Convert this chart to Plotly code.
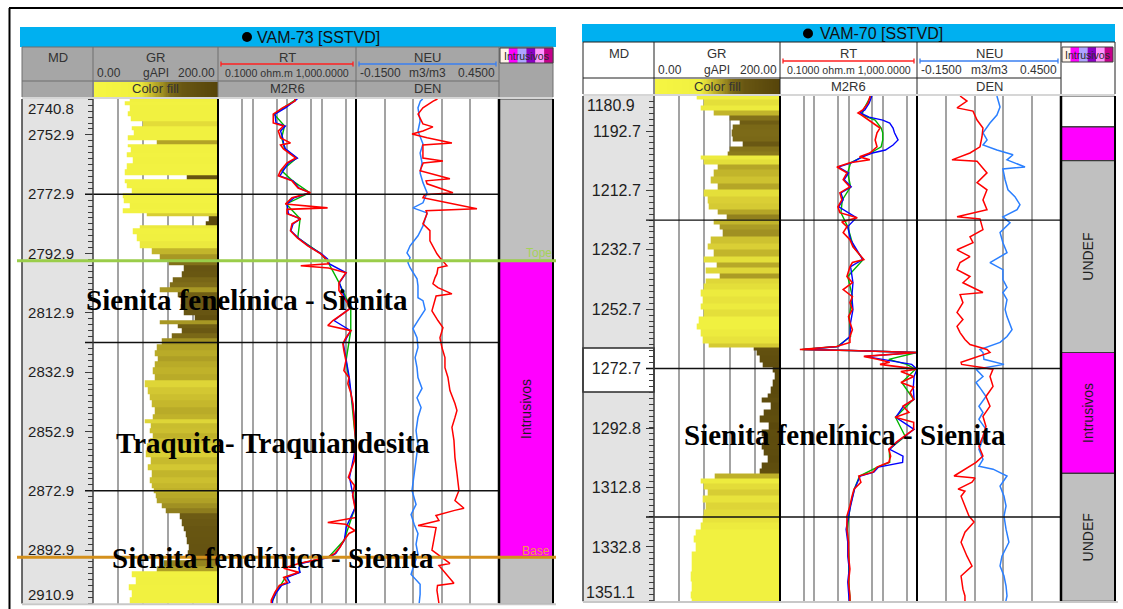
import plotly.graph_objects as go

W, H = 1123, 609
SANS = "Liberation Sans, Arial, sans-serif"
SERIF = "Liberation Serif, Times New Roman, serif"


def fx(x):
    return x / W


def fy(y):
    return 1 - y / H


# ---------------------------------------------------------------- VAM-73
A_TOP, A_BASE = 2740.8, 2910.9
A_MD_TICKS = [2752.9, 2772.9, 2792.9, 2812.9, 2832.9, 2852.9, 2872.9, 2892.9]
A_GRID_50 = [2772.9, 2822.9, 2872.9]
A_ZONE_TOP = [2740.8, 2795.3, 2895.3]
A_ZONE_BASE = [2795.3, 2895.3, 2910.9]
A_ZONE_NAME = ["", "Intrusivos", ""]
A_ZONE_KIND = ["undef", "intrusivos", "undef"]
A_MARKER_NAME = ["Tope", "Base"]
A_MARKER_DEPTH = [2795.3, 2895.3]

A_GR = [(2740.8, 59), (2742.0, 51), (2743.8, 59), (2745.9, 56), (2747.6, 60), (2749.2, 80),
        (2750.6, 62), (2752.3, 66), (2753.9, 56), (2755.6, 102), (2756.3, 56), (2758.0, 60),
        (2759.6, 54), (2761.3, 64), (2763.4, 54), (2765.6, 51), (2767.4, 150), (2768.2, 51),
        (2770.1, 54), (2771.5, 62), (2773.3, 48), (2775.1, 50), (2776.6, 59), (2778.5, 48),
        (2779.9, 86), (2780.9, 185), (2782.9, 180), (2783.6, 75), (2785.2, 64), (2787.6, 70),
        (2789.9, 75), (2792.0, 95), (2794.3, 107), (2796.0, 122), (2797.7, 146), (2799.7, 143),
        (2802.1, 128), (2803.1, 123), (2805.4, 107), (2806.5, 136), (2808.8, 142), (2811.0, 140),
        (2812.6, 146), (2814.5, 163), (2816.2, 107), (2817.2, 136), (2818.9, 142), (2820.6, 126),
        (2822.3, 110), (2824.6, 102), (2826.7, 99), (2828.4, 104), (2830.0, 99), (2832.4, 96),
        (2834.7, 99), (2836.8, 83), (2839.1, 88), (2841.5, 91), (2843.5, 94), (2845.8, 99),
        (2848.2, 96), (2849.2, 83), (2850.9, 92), (2852.6, 91), (2854.3, 96), (2855.9, 91),
        (2858.1, 87), (2860.3, 85), (2862.6, 93), (2865.0, 88), (2867.2, 95), (2869.4, 91),
        (2871.1, 94), (2872.8, 97), (2874.5, 100), (2876.2, 103), (2877.9, 110), (2879.5, 117),
        (2881.2, 139), (2883.9, 142), (2885.6, 146), (2887.3, 148), (2889.6, 150), (2892.0, 154),
        (2893.7, 152), (2895.3, 157), (2897.4, 114), (2899.0, 103), (2900.7, 62), (2903.1, 68),
        (2905.4, 57), (2907.5, 62), (2909.8, 59), (2910.9, 59)]

A_RT = [(2740.8, 17), (2741.5, 17), (2743.8, 7.4), (2745.9, 4.0), (2748.9, 4.0), (2749.9, 7.9),
        (2751.6, 5.6), (2753.9, 6.5), (2755.6, 12.6), (2756.3, 6.5), (2757.6, 7.9), (2760.7, 18),
        (2762.3, 10), (2765.0, 6.5), (2766.7, 5.6), (2768.4, 14), (2770.8, 21), (2772.4, 48),
        (2774.1, 14), (2776.2, 9), (2777.5, 150), (2778.0, 10), (2779.5, 10), (2781.2, 25),
        (2782.9, 14), (2785.2, 12.6), (2787.6, 20), (2790.3, 40), (2793.0, 95), (2794.7, 133),
        (2796.4, 160), (2797.0, 25), (2797.8, 160), (2799.4, 510), (2802.8, 320), (2805.4, 320),
        (2807.8, 446), (2811.2, 715), (2813.2, 417), (2815.5, 214), (2817.2, 152), (2818.9, 715),
        (2821.3, 510), (2823.3, 417), (2825.6, 446), (2829.0, 510), (2832.4, 446), (2834.7, 627),
        (2836.8, 580), (2840.1, 715), (2843.5, 815), (2848.2, 870), (2852.6, 930), (2857.6, 1000),
        (2862.7, 900), (2868.4, 600), (2871.1, 900), (2874.5, 800), (2878.5, 930), (2881.9, 1000),
        (2883.6, 152), (2884.2, 500), (2886.3, 930), (2887.3, 627), (2889.6, 446), (2892.0, 340),
        (2894.0, 244), (2895.3, 152), (2897.4, 22), (2899.0, 8), (2900.4, 22), (2902.1, 8),
        (2903.8, 10), (2904.8, 6), (2907.1, 4.5), (2909.8, 3.5), (2910.9, 3.5)]

A_M2R6 = [(2740.8, 20), (2743.8, 9), (2745.9, 4.5), (2748.9, 4.8), (2749.9, 9), (2751.6, 6.5),
          (2753.9, 7.5), (2756.0, 8), (2757.6, 9), (2760.7, 20), (2762.3, 11), (2765.0, 7.5),
          (2766.7, 6.2), (2768.4, 15), (2770.8, 22), (2772.4, 45), (2774.1, 16), (2776.2, 10),
          (2779.5, 11), (2781.2, 24), (2782.9, 15), (2785.2, 13), (2787.6, 21), (2790.3, 42),
          (2793.0, 100), (2794.7, 150), (2796.4, 170), (2799.4, 520), (2802.8, 330), (2807.8, 470),
          (2811.2, 700), (2815.5, 230), (2818.9, 700), (2823.3, 430), (2829.0, 520), (2834.7, 640),
          (2840.1, 720), (2848.2, 900), (2857.6, 1000), (2868.4, 650), (2878.5, 950), (2885.2, 520),
          (2889.6, 460), (2894.0, 260), (2895.3, 170), (2897.4, 25), (2899.0, 22), (2900.4, 24),
          (2902.1, 10), (2903.8, 12), (2904.8, 7), (2907.1, 5), (2909.8, 3.8), (2910.9, 3.8)]

A_RT3 = [(2740.8, 19), (2745.9, 4.2), (2749.9, 8.5), (2753.9, 7), (2757.6, 8.5), (2760.7, 19),
         (2765.0, 7), (2768.4, 14.5), (2772.4, 46), (2776.2, 9.5), (2781.2, 24), (2787.6, 20.5),
         (2793.0, 97), (2796.4, 165), (2802.8, 325), (2811.2, 705), (2818.9, 705), (2829.0, 515),
         (2840.1, 715), (2857.6, 1000), (2878.5, 940), (2889.6, 450), (2895.3, 160), (2897.4, 23),
         (2900.4, 23), (2902.1, 9), (2904.8, 6.5), (2907.1, 4.8), (2910.9, 3.6)]

A_NEU = [(2740.8, 0.13), (2741.5, 0.12), (2743.8, 0.11), (2748.2, 0.119), (2751.6, 0.11),
         (2756.0, 0.131), (2759.0, 0.119), (2762.3, 0.127), (2765.7, 0.119), (2769.0, 0.131),
         (2772.4, 0.148), (2775.8, 0.131), (2777.5, 0.089), (2779.2, 0.148), (2783.6, 0.131),
         (2786.9, 0.11), (2790.3, 0.077), (2792.7, 0.064), (2794.3, 0.077), (2796.0, 0.068),
         (2797.7, 0.077), (2799.4, 0.089), (2801.4, 0.106), (2803.8, 0.11), (2807.8, 0.11),
         (2808.8, 0.131), (2811.8, 0.14), (2815.5, 0.11), (2818.2, 0.089), (2821.3, 0.106),
         (2824.6, 0.11), (2828.0, 0.098), (2831.4, 0.106), (2834.7, 0.11), (2838.4, 0.127),
         (2841.5, 0.106), (2844.8, 0.123), (2848.2, 0.11), (2852.6, 0.102), (2857.6, 0.11),
         (2862.7, 0.102), (2868.4, 0.094), (2872.8, 0.085), (2877.5, 0.102), (2880.9, 0.081),
         (2884.2, 0.094), (2887.3, 0.11), (2890.9, 0.102), (2894.3, 0.11), (2897.7, 0.094),
         (2901.1, 0.081), (2904.4, 0.119), (2907.8, 0.119), (2910.9, 0.115)]

A_DEN = [(2740.8, 2.52), (2741.5, 2.49), (2743.8, 2.418), (2745.9, 2.384), (2749.2, 2.418),
         (2750.2, 2.488), (2751.6, 2.418), (2752.6, 2.342), (2753.9, 2.447), (2755.6, 2.621),
         (2756.3, 2.418), (2760.7, 2.418), (2761.7, 2.558), (2762.4, 2.42), (2765.0, 2.398),
         (2767.7, 2.607), (2768.4, 2.44), (2769.4, 2.447), (2772.4, 2.628), (2773.1, 2.43),
         (2774.1, 2.418), (2777.8, 2.796), (2778.5, 2.44), (2779.5, 2.447), (2782.9, 2.418),
         (2785.2, 2.467), (2788.6, 2.467), (2793.0, 2.516), (2794.3, 2.537), (2796.4, 2.572),
         (2797.0, 2.586), (2797.7, 2.523), (2799.7, 2.516), (2801.1, 2.502), (2803.1, 2.488),
         (2804.4, 2.523), (2806.5, 2.621), (2807.2, 2.51), (2808.8, 2.502), (2812.2, 2.481),
         (2815.5, 2.523), (2817.9, 2.558), (2821.3, 2.537), (2824.6, 2.551), (2828.0, 2.572),
         (2831.4, 2.572), (2834.7, 2.593), (2839.1, 2.607), (2843.5, 2.642), (2845.8, 2.656),
         (2848.2, 2.642), (2851.5, 2.621), (2855.9, 2.635), (2861.7, 2.642), (2867.0, 2.656),
         (2872.8, 2.67), (2876.2, 2.642), (2878.8, 2.705), (2879.5, 2.64), (2881.2, 2.509),
         (2882.9, 2.53), (2884.6, 2.384), (2885.3, 2.51), (2889.6, 2.495), (2892.9, 2.481),
         (2897.4, 2.607), (2898.1, 2.53), (2904.1, 2.635), (2904.8, 2.52), (2906.4, 2.516),
         (2909.8, 2.53), (2910.9, 2.53)]

# ---------------------------------------------------------------- VAM-70
B_TOP, B_BASE = 1180.9, 1351.1
B_MD_TICKS = [1192.7, 1212.7, 1232.7, 1252.7, 1272.7, 1292.8, 1312.8, 1332.8]
B_GRID_50 = [1222.7, 1272.7, 1322.7]
B_ZONE_TOP = [1180.9, 1191.3, 1202.7, 1267.3, 1308.0]
B_ZONE_BASE = [1191.3, 1202.7, 1267.3, 1308.0, 1351.1]
B_ZONE_NAME = ["", "", "UNDEF", "Intrusivos", "UNDEF"]
B_ZONE_KIND = ["blank", "intrusivos", "undef", "intrusivos", "undef"]
B_MD_SELECTED = (1265.8, 1280.6)

B_GR = [(1180.9, 69), (1183.3, 79), (1184.9, 74), (1186.6, 95), (1188.0, 121), (1190.0, 137),
        (1191.0, 126), (1193.3, 124), (1195.7, 126), (1196.7, 142), (1199.1, 121), (1200.1, 118),
        (1201.7, 74), (1203.1, 79), (1204.8, 101), (1206.8, 95), (1209.1, 90), (1211.5, 101),
        (1213.5, 79), (1215.9, 85), (1218.2, 87), (1220.2, 101), (1221.6, 116), (1223.3, 95),
        (1224.9, 105), (1226.9, 110), (1229.3, 90), (1231.7, 85), (1233.7, 95), (1236.0, 79),
        (1237.7, 100), (1239.4, 82), (1241.7, 105), (1242.7, 82), (1245.1, 79), (1247.1, 74),
        (1249.5, 77), (1251.8, 74), (1253.8, 79), (1256.2, 71), (1258.5, 69), (1260.6, 74),
        (1262.9, 77), (1265.3, 87), (1265.9, 158), (1267.3, 164), (1269.6, 169), (1271.9, 173),
        (1272.9, 189), (1275.4, 192), (1277.4, 189), (1280.0, 185), (1282.1, 181), (1283.1, 172),
        (1285.4, 186), (1287.5, 175), (1289.8, 169), (1292.2, 183), (1294.5, 172), (1296.5, 175),
        (1298.9, 172), (1300.9, 175), (1303.3, 181), (1305.6, 172), (1307.3, 169), (1308.9, 97),
        (1310.6, 74), (1312.3, 80), (1314.3, 86), (1316.7, 77), (1319.0, 83), (1321.1, 80),
        (1323.4, 77), (1325.8, 74), (1327.8, 66), (1330.1, 63), (1332.5, 66), (1335.9, 61),
        (1339.2, 61), (1342.6, 58), (1346.0, 61), (1349.3, 58), (1351.1, 60)]

B_RT = [(1180.9, 43), (1183.3, 37), (1185.6, 26), (1186.6, 19), (1187.3, 24), (1190.0, 52),
        (1191.7, 83), (1193.3, 68), (1195.7, 60), (1198.0, 68), (1200.1, 42), (1201.4, 21),
        (1202.4, 42), (1203.4, 11), (1204.8, 4.6), (1206.8, 9), (1209.1, 7), (1211.5, 11),
        (1213.5, 5.6), (1215.9, 6.4), (1218.2, 4.9), (1220.2, 5.6), (1221.9, 18), (1223.3, 6.4),
        (1224.9, 9), (1226.9, 7), (1229.3, 11), (1231.7, 13.5), (1233.7, 19), (1236.0, 28),
        (1237.0, 13), (1238.4, 11), (1241.7, 9), (1243.8, 13), (1246.1, 7), (1248.5, 13),
        (1250.5, 11), (1252.8, 13), (1255.2, 10), (1257.2, 11), (1259.6, 13), (1261.9, 11),
        (1263.9, 11), (1265.3, 4.5), (1266.3, 0.38), (1266.6, 11), (1267.3, 1000), (1268.6, 28),
        (1269.6, 70), (1270.6, 160), (1271.3, 83), (1272.9, 1000), (1273.7, 338), (1275.4, 800),
        (1277.4, 340), (1279.0, 800), (1280.7, 630), (1283.1, 800), (1285.4, 390), (1287.5, 580),
        (1289.1, 230), (1290.8, 800), (1293.2, 800), (1295.5, 440), (1297.5, 250), (1299.9, 150),
        (1302.2, 170), (1304.3, 150), (1305.9, 68), (1307.6, 52), (1308.9, 20), (1311.0, 23),
        (1313.3, 14.5), (1315.7, 12.7), (1319.0, 11), (1322.4, 9), (1326.8, 9), (1331.2, 10),
        (1335.9, 10), (1340.2, 11), (1344.6, 10), (1349.3, 11), (1351.1, 11)]

B_M2R6 = [(1180.9, 48), (1183.3, 40), (1185.6, 30), (1186.6, 22), (1188.0, 40), (1189.0, 100),
          (1190.0, 160), (1191.7, 200), (1193.3, 220), (1195.7, 280), (1197.4, 200), (1199.1, 120),
          (1200.1, 50), (1201.4, 25), (1203.4, 12), (1204.8, 5), (1206.8, 10), (1209.1, 7.5),
          (1211.5, 12), (1213.5, 6), (1215.9, 7), (1218.2, 5.2), (1221.9, 17), (1224.9, 9.5),
          (1229.3, 11.5), (1233.7, 20), (1236.0, 26), (1238.4, 11.5), (1243.8, 13.5), (1248.5, 12.5),
          (1252.8, 13.5), (1257.2, 11.5), (1261.9, 11), (1265.3, 5), (1266.3, 0.5), (1266.6, 12),
          (1267.3, 1000), (1268.6, 30), (1270.6, 300), (1271.3, 700), (1272.9, 1000), (1275.4, 820),
          (1279.0, 780), (1283.1, 820), (1285.4, 400), (1289.1, 240), (1293.2, 820), (1297.5, 260),
          (1299.9, 160), (1302.2, 390), (1304.3, 380), (1305.9, 75), (1307.6, 55), (1308.9, 22),
          (1313.3, 15), (1319.0, 11.5), (1326.8, 8.5), (1331.2, 9.5), (1335.9, 9.5), (1340.2, 10.5),
          (1344.6, 9.5), (1349.3, 10.5), (1351.1, 10.5)]

B_RT3 = [(1180.9, 45), (1185.6, 27), (1187.3, 25), (1189.0, 60), (1191.7, 90), (1193.3, 100),
         (1195.7, 100), (1198.0, 90), (1200.1, 44), (1203.4, 11.5), (1206.8, 9.5), (1211.5, 11.5),
         (1215.9, 6.6), (1220.2, 6), (1224.9, 9.5), (1231.7, 14), (1236.0, 27), (1241.7, 9.5),
         (1248.5, 13), (1255.2, 10.5), (1261.9, 11.5), (1265.3, 4.7), (1266.3, 0.45), (1266.6, 11.5),
         (1267.3, 1000), (1269.6, 150), (1271.3, 500), (1272.9, 900), (1277.4, 360), (1283.1, 790),
         (1289.1, 235), (1295.5, 450), (1299.9, 155), (1304.3, 160), (1305.9, 70), (1308.9, 21),
         (1313.3, 14.8), (1319.0, 11.2), (1326.8, 9.2), (1335.9, 10.2), (1344.6, 10.2), (1351.1, 11.2)]

B_NEU = [(1180.9, 0.183), (1184.6, 0.196), (1187.3, 0.183), (1190.0, 0.154), (1193.3, 0.125),
         (1195.7, 0.142), (1197.4, 0.125), (1199.1, 0.183), (1200.7, 0.25), (1202.4, 0.225),
         (1204.8, 0.30), (1205.5, 0.208), (1209.1, 0.217), (1212.5, 0.229), (1214.8, 0.258),
         (1217.5, 0.279), (1219.2, 0.267), (1221.6, 0.208), (1223.6, 0.2375), (1226.9, 0.196),
         (1230.3, 0.208), (1233.7, 0.225), (1237.0, 0.154), (1239.4, 0.208), (1242.7, 0.208),
         (1245.4, 0.225), (1247.1, 0.208), (1249.5, 0.225), (1252.8, 0.217), (1255.2, 0.225),
         (1259.6, 0.246), (1261.9, 0.225), (1263.9, 0.196), (1266.3, 0.1125), (1267.3, 0.125),
         (1269.6, 0.129), (1271.3, 0.2125), (1272.9, 0.096), (1275.4, 0.125), (1277.4, 0.096),
         (1279.7, 0.117), (1282.1, 0.1375), (1285.4, 0.108), (1287.5, 0.125), (1289.8, 0.108),
         (1293.2, 0.1375), (1296.5, 0.125), (1299.9, 0.108), (1303.3, 0.125), (1305.6, 0.108),
         (1306.6, 0.167), (1308.9, 0.225), (1312.3, 0.196), (1315.7, 0.2125), (1319.0, 0.221),
         (1322.4, 0.2125), (1326.8, 0.221), (1331.2, 0.233), (1335.9, 0.204), (1339.2, 0.196),
         (1342.6, 0.2125), (1346.0, 0.221), (1349.3, 0.225), (1351.1, 0.22)]

B_DEN = [(1180.9, 2.249), (1182.6, 2.297), (1184.9, 2.228), (1186.0, 2.339), (1189.0, 2.367),
         (1191.7, 2.408), (1194.7, 2.401), (1198.0, 2.3875), (1200.1, 2.318), (1202.4, 2.193),
         (1202.9, 2.367), (1206.8, 2.436), (1210.1, 2.367), (1212.5, 2.436), (1215.9, 2.408),
         (1219.2, 2.436), (1221.6, 2.228), (1222.3, 2.3875), (1225.9, 2.408), (1228.3, 2.318),
         (1230.3, 2.339), (1232.7, 2.228), (1235.0, 2.318), (1237.0, 2.249), (1239.4, 2.228),
         (1241.7, 2.318), (1243.8, 2.269), (1247.1, 2.408), (1247.8, 2.249), (1250.5, 2.269),
         (1253.8, 2.228), (1256.2, 2.269), (1258.5, 2.228), (1260.6, 2.249), (1262.9, 2.283),
         (1264.6, 2.318), (1266.3, 2.436), (1267.3, 2.457), (1270.6, 2.256), (1271.3, 2.26),
         (1272.9, 2.478), (1275.4, 2.457), (1278.7, 2.478), (1282.1, 2.429), (1285.4, 2.457),
         (1288.8, 2.408), (1292.2, 2.429), (1295.5, 2.408), (1298.9, 2.38), (1302.2, 2.408),
         (1304.3, 2.36), (1308.9, 2.207), (1309.6, 2.353), (1311.0, 2.332), (1313.3, 2.235),
         (1314.0, 2.283), (1315.7, 2.256), (1319.0, 2.283), (1322.4, 2.311), (1324.4, 2.346),
         (1327.8, 2.283), (1331.2, 2.256), (1335.9, 2.297), (1339.2, 2.332), (1342.6, 2.256),
         (1347.0, 2.269), (1349.3, 2.283), (1351.1, 2.283)]

# ---------------------------------------------------------------- styling
GR_COLORS = [[0.0, "#f6f642"], [0.36, "#f0f040"], [0.42, "#dcd236"], [0.48, "#c0b22a"],
             [0.55, "#a09022"], [0.62, "#7c6a18"], [0.72, "#685612"], [1.0, "#56440a"]]
GR_X = list(range(0, 201))
GR_LEGEND = list(range(0, 201, 2))
ZONE_FILL = {"undef": "#c0c0c0", "intrusivos": "#ff00ff", "blank": "#ffffff"}
LEGEND_STRIPES = ["#fff4ea", "#ff00ff", "#aea4ff", "#8a00c4", "#ff96ff", "#c4008a"]
RT_GRID = [0.5, 1, 5, 10, 50, 100, 500]
GR_GRID = [40, 80, 120, 160]
NEU_GRID = [-0.03, 0.09, 0.21, 0.33]

GEO_A = dict(md=(22, 93), gr=(93, 218), rt=(218, 356), neu=(356, 499), lith=(499, 553),
             top=99, bottom=603.5, bar=(20, 556, 27, 47), dot=(242, 252, 32, 42), title=(255, 37),
             hdr=(47, 81, 97), hdr_fill="#a6a6a6", hdr_line="#6e6e6e", name_y=57, scale_y=73,
             row2_y=89, uline_y=64, band=(97, 99.5), standoff=8, md_font=15,
             end_x=76, end_y=(108, 594), legend=(500, 553, 48, 63), line_x0=85)
GEO_B = dict(md=(583, 654), gr=(654, 780), rt=(780, 917), neu=(917, 1061), lith=(1061, 1115),
             top=96, bottom=601.3, bar=(582, 1115, 24, 42), dot=(803, 813, 28.5, 38.5), title=(818, 33.3),
             hdr=(42, 78, 94), hdr_fill="#ffffff", hdr_line="#202020", name_y=53, scale_y=70,
             row2_y=86, uline_y=61, band=(94, 96.5), standoff=2, md_font=16,
             end_x=637, end_y=(105, 592), legend=(1062, 1113, 47, 62), line_x0=646)

fig = go.Figure()
shapes, annos, lay = [], [], {}


def akey(kind, n):
    return f"{kind}axis" if n == 1 else f"{kind}axis{n}"


def aref(kind, n):
    return kind if n == 1 else f"{kind}{n}"


def rect(x0, y0, x1, y1, fill, line=None, lw=0, layer="below"):
    shapes.append(dict(type="rect", xref="paper", yref="paper", x0=fx(x0), x1=fx(x1),
                       y0=fy(y1), y1=fy(y0), fillcolor=fill, layer=layer,
                       line=dict(width=lw, color=line or fill)))


def seg(x0, y0, x1, y1, color, w, layer="above"):
    shapes.append(dict(type="line", xref="paper", yref="paper", x0=fx(x0), x1=fx(x1),
                       y0=fy(y0), y1=fy(y1), line=dict(color=color, width=w), layer=layer))


def text(x, y, s, size, color="#333333", xa="center", ya="middle", family=SANS, angle=0):
    annos.append(dict(x=fx(x), y=fy(y), xref="paper", yref="paper", text=s, showarrow=False,
                      xanchor=xa, yanchor=ya, textangle=angle,
                      font=dict(family=family, size=size, color=color)))


def curve(pairs, n_x, yr, color, width):
    fig.add_trace(go.Scatter(x=[p[1] for p in pairs], y=[p[0] for p in pairs], mode="lines",
                             xaxis=aref("x", n_x), yaxis=yr, hoverinfo="skip",
                             line=dict(color=color, width=width)))


def add_well(g, d, ids, name):
    yr = aref("y", ids["y"])
    t0, t1 = g["top"], g["bottom"]

    # ---- header
    bx0, bx1, by0, by1 = g["bar"]
    rect(bx0, by0, bx1, by1, "#00b0f0")
    dx0, dx1, dy0, dy1 = g["dot"]
    shapes.append(dict(type="circle", xref="paper", yref="paper", x0=fx(dx0), x1=fx(dx1),
                       y0=fy(dy1), y1=fy(dy0), fillcolor="black", line=dict(width=0), layer="above"))
    text(g["title"][0], g["title"][1], name, 16, "#111111", xa="left")

    h0, hmid, h1 = g["hdr"]
    x_md0 = g["md"][0]
    x_l1 = g["lith"][1]
    rect(x_md0, h0, x_l1, h1, g["hdr_fill"])
    for xv in (g["md"][0], g["md"][1], g["gr"][1], g["rt"][1], g["neu"][1], g["lith"][1]):
        seg(xv, h0, xv, h1, g["hdr_line"], 1)
    seg(x_md0, hmid, g["neu"][1], hmid, g["hdr_line"], 1)
    seg(x_md0, h0, x_l1, h0, g["hdr_line"], 1)
    rect(x_md0, g["band"][0], x_l1, g["band"][1], "#d6d6d6")

    cmd = sum(g["md"]) / 2
    cgr = sum(g["gr"]) / 2
    crt = sum(g["rt"]) / 2
    cneu = sum(g["neu"]) / 2
    text(cmd, g["name_y"], "MD", 13)
    text(cgr, g["name_y"], "GR", 13)
    text(crt, g["name_y"], "RT", 13)
    text(cneu, g["name_y"], "NEU", 13)
    text(g["gr"][0] + 2, g["scale_y"], "0.00", 12, xa="left")
    text(cgr, g["scale_y"], "gAPI", 12)
    text(g["gr"][1] - 1, g["scale_y"], "200.00", 12, xa="right")
    text(crt, g["scale_y"], "0.1000 ohm.m 1,000.0000", 10.6)
    text(g["neu"][0] + 2, g["scale_y"], "-0.1500", 12, xa="left")
    text(cneu, g["scale_y"], "m3/m3", 12)
    text(g["neu"][1] - 2, g["scale_y"], "0.4500", 12, xa="right")
    uy = g["uline_y"]
    for (a, b), col in (((g["rt"][0] + 3, g["rt"][1] - 3), "#ff2020"),
                        ((g["neu"][0] + 3, g["neu"][1] - 3), "#3a7ff0")):
        seg(a, uy, b, uy, col, 1.3)
        seg(a, uy - 2.5, a, uy + 2.5, col, 1.3)
        seg(b, uy - 2.5, b, uy + 2.5, col, 1.3)
    text(crt, g["row2_y"], "M2R6", 13)
    text(cneu, g["row2_y"], "DEN", 13)

    lx0, lx1, ly0, ly1 = g["legend"]
    step = (lx1 - lx0) / len(LEGEND_STRIPES)
    for i, c in enumerate(LEGEND_STRIPES):
        rect(lx0 + i * step, ly0, lx0 + (i + 1) * step, ly1, c, layer="above")
    rect(lx0, ly0, lx1, ly1, "rgba(0,0,0,0)", line="#404040", lw=1, layer="above")
    text((lx0 + lx1) / 2, (ly0 + ly1) / 2 + 0.5, "Intrusivos", 10.5, "#2a2a2a")

    # colour-fill legend cell
    hx, hy = ids["hx"], ids["hy"]
    lay[akey("x", hx)] = dict(domain=[fx(g["gr"][0] + 1), fx(g["gr"][1])], range=[0, 200],
                              anchor=aref("y", hy), visible=False, fixedrange=True)
    lay[akey("y", hy)] = dict(domain=[fy(h1), fy(hmid + 1)], range=[-0.5, 0.5],
                              anchor=aref("x", hx), visible=False, fixedrange=True)
    fig.add_trace(go.Heatmap(x=GR_LEGEND, y=[0], z=[GR_LEGEND], colorscale=GR_COLORS, zmin=0,
                             zmax=200, showscale=False, hoverinfo="skip",
                             xaxis=aref("x", hx), yaxis=aref("y", hy)))
    text(cgr, g["row2_y"], "Color fill", 13, "#333333")

    # ---- data area backgrounds
    rect(g["md"][0], t0, g["md"][1], t1, "#e3e3e3")
    rect(g["gr"][0], t0, g["neu"][1], t1, "#ffffff")

    # ---- depth axis (tick marks and labels in the MD column)
    lay[akey("y", ids["y"])] = dict(
        domain=[fy(t1), fy(t0)], range=[d["base"], d["top"]], anchor="free",
        position=fx(g["md"][1]), side="left", tickmode="array", tickvals=d["ticks"],
        ticktext=[f"{v:.1f}" for v in d["ticks"]], ticks="outside", ticklen=8, tickwidth=1.4,
        tickcolor="#3c3c3c", ticklabelstandoff=g["standoff"],
        tickfont=dict(family=SANS, size=g["md_font"], color="#1e1e1e"),
        minor=dict(ticks="outside", ticklen=5, tickwidth=1.1, tickcolor="#3c3c3c",
                   tickmode="linear", tick0=d["ticks"][0], dtick=2),
        showgrid=False, zeroline=False, showline=False, automargin=False, fixedrange=True)
    text(g["end_x"], g["end_y"][0], f"{d['top']:.1f}", g["md_font"], "#1e1e1e", xa="right")
    text(g["end_x"], g["end_y"][1], f"{d['base']:.1f}", g["md_font"], "#1e1e1e", xa="right")

    def track(n, span, rng, typ="linear", grid=None, overlay=None):
        ax = dict(domain=[fx(span[0]), fx(span[1])], range=rng, type=typ, anchor=yr,
                  showticklabels=False, ticks="", showline=False, zeroline=False,
                  automargin=False, fixedrange=True, showgrid=bool(grid))
        if grid:
            ax.update(tickmode="array", tickvals=grid, gridcolor="#a3a3a3", gridwidth=1.6)
        if overlay:
            ax["overlaying"] = aref("x", overlay)
        lay[akey("x", n)] = ax

    track(ids["gr"], g["gr"], [0, 200], grid=GR_GRID)
    track(ids["rt"], g["rt"], [-1, 3], typ="log", grid=RT_GRID)
    track(ids["neu"], g["neu"], [-0.15, 0.45], grid=NEU_GRID)
    track(ids["den"], g["neu"], [1.95, 2.95], overlay=ids["neu"])
    track(ids["lith"], g["lith"], [0, 1])

    # ---- GR colour fill: from the curve to the right edge, coloured by GR
    gr_depth = [p[0] for p in d["gr"]]
    gr_z = [[p[1] if xv >= p[1] else None for xv in GR_X] for p in d["gr"]]
    fig.add_trace(go.Heatmap(x=GR_X, y=gr_depth, z=gr_z, colorscale=GR_COLORS, zmin=0, zmax=200,
                             showscale=False, hoverinfo="skip", zsmooth=False,
                             xaxis=aref("x", ids["gr"]), yaxis=yr))

    # ---- resistivity and porosity curves
    curve(d["rt3"], ids["rt"], yr, "#00b400", 1.4)
    curve(d["m2r6"], ids["rt"], yr, "#0000ff", 1.4)
    curve(d["rt"], ids["rt"], yr, "#ff0000", 1.6)
    curve(d["neu"], ids["neu"], yr, "#2a7fff", 1.5)
    curve(d["den"], ids["den"], yr, "#ff0000", 1.5)

    # ---- lithology column
    fig.add_trace(go.Bar(
        x=[0.5] * len(d["ztop"]), base=d["ztop"],
        y=[b - t for t, b in zip(d["ztop"], d["zbase"])], width=[1] * len(d["ztop"]),
        marker=dict(color=[ZONE_FILL[k] for k in d["zkind"]], line=dict(color="#3a3a3a", width=1.2)),
        text=d["zname"], textposition="inside", insidetextanchor="middle", textangle=-90,
        insidetextfont=dict(family=SANS, size=14, color="#1e1e1e"), constraintext="none",
        hoverinfo="skip", xaxis=aref("x", ids["lith"]), yaxis=yr))

    # ---- 50 m reference lines across the curve tracks
    for dv in d["grid50"]:
        shapes.append(dict(type="line", xref="paper", yref=yr, x0=fx(g["line_x0"]),
                           x1=fx(g["neu"][1]), y0=dv, y1=dv, layer="above",
                           line=dict(color="#111111", width=1.4)))

    # ---- track borders
    for xv, col, w in ((g["md"][0], "#3c3c3c", 1.5), (g["md"][1], "#3c3c3c", 1.5),
                       (g["gr"][1], "#000000", 2), (g["rt"][1], "#000000", 2),
                       (g["neu"][1], "#000000", 2.5), (g["lith"][1], "#000000", 2)):
        seg(xv, t0, xv, t1, col, w)
    seg(g["md"][0], t1 + 0.8, x_l1 + 3, t1 + 0.8, "#c8c8c8", 2)


A = dict(top=A_TOP, base=A_BASE, ticks=A_MD_TICKS, grid50=A_GRID_50, gr=A_GR, rt=A_RT,
         m2r6=A_M2R6, rt3=A_RT3, neu=A_NEU, den=A_DEN, ztop=A_ZONE_TOP, zbase=A_ZONE_BASE,
         zname=A_ZONE_NAME, zkind=A_ZONE_KIND)
B = dict(top=B_TOP, base=B_BASE, ticks=B_MD_TICKS, grid50=B_GRID_50, gr=B_GR, rt=B_RT,
         m2r6=B_M2R6, rt3=B_RT3, neu=B_NEU, den=B_DEN, ztop=B_ZONE_TOP, zbase=B_ZONE_BASE,
         zname=B_ZONE_NAME, zkind=B_ZONE_KIND)

add_well(GEO_A, A, dict(y=1, hy=3, gr=1, rt=2, neu=3, den=4, lith=5, hx=6), "VAM-73 [SSTVD]")
add_well(GEO_B, B, dict(y=2, hy=4, gr=7, rt=8, neu=9, den=10, lith=11, hx=12), "VAM-70 [SSTVD]")

# selected interval box in the VAM-70 MD column
shapes.append(dict(type="rect", xref="paper", yref="y2", x0=fx(583), x1=fx(654),
                   y0=B_MD_SELECTED[0], y1=B_MD_SELECTED[1], fillcolor="#ffffff",
                   line=dict(color="#2a2a2a", width=1.5), layer="below"))

# well tops on VAM-73
for nm, dv, col in zip(A_MARKER_NAME, A_MARKER_DEPTH, ["#9acd4a", "#d4901c"]):
    shapes.append(dict(type="line", xref="paper", yref="y", x0=fx(17), x1=fx(556), y0=dv, y1=dv,
                       layer="above", line=dict(color=col, width=3)))
text(554, 253, "Tope", 12, "#a6d25a", xa="right")
text(552, 551, "Base", 12, "#f0a040", xa="right")

# outer frame
seg(9, 8, 1123, 8, "#000000", 2)
seg(9.5, 8, 9.5, 609, "#000000", 2)

# interpretation labels
for x, y, s in ((247, 300, "Sienita fenelínica - Sienita"),
                (273, 443, "Traquita- Traquiandesita"),
                (273, 558, "Sienita fenelínica - Sienita"),
                (845, 435, "Sienita fenelínica - Sienita")):
    text(x, y, f"<b>{s}</b>", 29, "#000000", family=SERIF)

fig.update_layout(width=W, height=H, margin=dict(l=0, r=0, t=0, b=0), template="none",
                  paper_bgcolor="#ffffff", plot_bgcolor="rgba(0,0,0,0)", showlegend=False,
                  barmode="overlay", shapes=shapes, annotations=annos, **lay)

fig.write_html("out.html")
